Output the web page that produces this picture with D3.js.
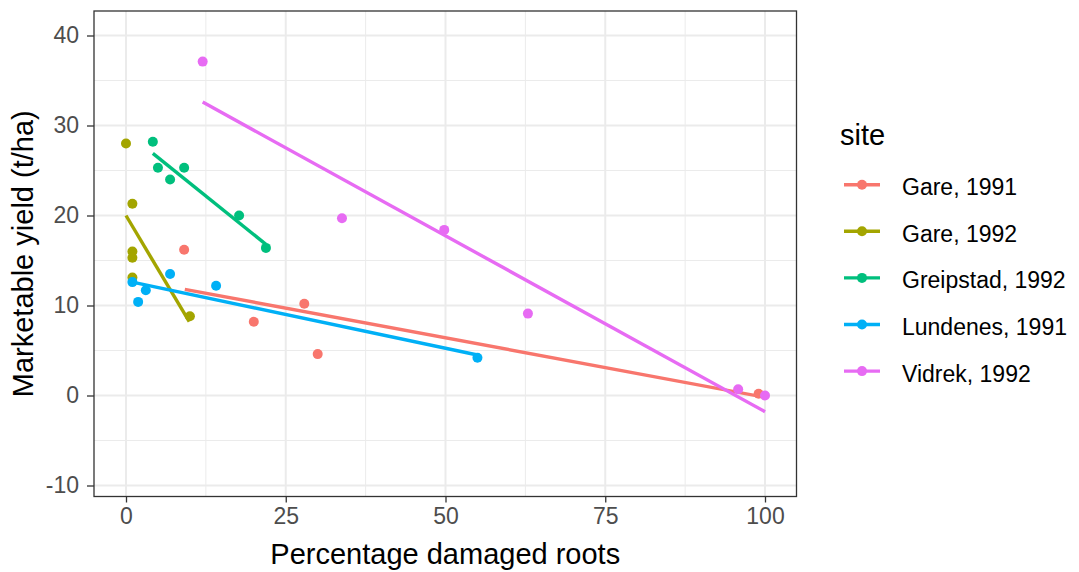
<!DOCTYPE html>
<html>
<head>
<meta charset="utf-8">
<script src="https://cdn.jsdelivr.net/npm/d3@7"></script>
<style>
  body { margin: 0; background: #fff; }
  text { font-family: "Liberation Sans", Arial, sans-serif; }
</style>
</head>
<body>
<svg width="1079" height="572"></svg>
<script>
"use strict";

// sites, in legend order
var sites = ["Gare, 1991", "Gare, 1992", "Greipstad, 1992", "Lundenes, 1991", "Vidrek, 1992"];
var colors = ["#F8766D", "#A3A500", "#00BF7D", "#00B0F6", "#E76BF3"];

// observed points: [percent damaged roots, marketable yield]
var gare91 = [[9.1, 16.2], [20, 8.2], [27.9, 10.2], [30, 4.6], [99, 0.2]];
var gare92 = [[0, 28], [1, 21.3], [1, 16], [1, 15.3], [1, 13.1], [10, 8.8]];
var greip92 = [[4.2, 28.2], [5, 25.3], [6.9, 24], [9.1, 25.3], [17.7, 20], [21.9, 16.4]];
var lund91 = [[1, 12.6], [1.9, 10.4], [3.1, 11.7], [6.9, 13.5], [14.1, 12.2], [55, 4.2]];
var vidrek92 = [[12, 37.1], [33.8, 19.7], [49.8, 18.4], [62.9, 9.1], [95.8, 0.7], [100, 0]];

// fitted line ends per site
var fits = [
  [[9.2, 11.8], [100, -0.2]],
  [[0, 20], [9.9, 8.2]],
  [[4.2, 26.9], [21.9, 16.8]],
  [[1, 12.6], [55, 4.5]],
  [[12, 32.6], [100, -1.8]]
];

var xTicks = [0, 25, 50, 75, 100];
var yTicks = [-10, 0, 10, 20, 30, 40];
var xMinor = [12.5, 37.5, 62.5, 87.5];
var yMinor = [-5, 5, 15, 25, 35];

var points = [gare91, gare92, greip92, lund91, vidrek92];

var svg = d3.select("svg");
var pLeft = 94, pRight = 796.5, pTop = 11, pBottom = 496.5;

var x = d3.scaleLinear().domain([0, 100]).range([126, 765]);
var y = d3.scaleLinear().domain([-10, 40]).range([485.5, 35.5]);

var plot = svg.append("g");

// background grid
plot.selectAll(".minx").data(xMinor).enter().append("line")
    .attr("x1", d => x(d)).attr("x2", d => x(d))
    .attr("y1", pTop).attr("y2", pBottom)
    .attr("stroke", "#EBEBEB").attr("stroke-width", 1);
plot.selectAll(".miny").data(yMinor).enter().append("line")
    .attr("x1", pLeft).attr("x2", pRight)
    .attr("y1", d => y(d)).attr("y2", d => y(d))
    .attr("stroke", "#EBEBEB").attr("stroke-width", 1);
plot.selectAll(".majx").data(xTicks).enter().append("line")
    .attr("x1", d => x(d)).attr("x2", d => x(d))
    .attr("y1", pTop).attr("y2", pBottom)
    .attr("stroke", "#EBEBEB").attr("stroke-width", 2);
plot.selectAll(".majy").data(yTicks).enter().append("line")
    .attr("x1", pLeft).attr("x2", pRight)
    .attr("y1", d => y(d)).attr("y2", d => y(d))
    .attr("stroke", "#EBEBEB").attr("stroke-width", 2);

// fitted lines
var line = d3.line().x(d => x(d[0])).y(d => y(d[1]));
plot.selectAll(".fit").data(fits).enter().append("path")
    .attr("d", line)
    .attr("fill", "none")
    .attr("stroke", (d, i) => colors[i])
    .attr("stroke-width", 3.4);

// points
points.forEach(function(pts, i) {
  plot.selectAll(".pt" + i).data(pts).enter().append("circle")
      .attr("cx", d => x(d[0])).attr("cy", d => y(d[1]))
      .attr("r", 5)
      .attr("fill", colors[i]);
});

// panel border
svg.append("rect")
   .attr("x", pLeft).attr("y", pTop)
   .attr("width", pRight - pLeft).attr("height", pBottom - pTop)
   .attr("fill", "none").attr("stroke", "#333333").attr("stroke-width", 1.3);

// axes
var fmt = d => String(d);
var xAxis = svg.append("g").attr("transform", "translate(0," + pBottom + ")")
    .call(d3.axisBottom(x).tickValues(xTicks).tickFormat(fmt).tickSize(6).tickPadding(5));
var yAxis = svg.append("g").attr("transform", "translate(" + pLeft + ",0)")
    .call(d3.axisLeft(y).tickValues(yTicks).tickFormat(fmt).tickSize(7).tickPadding(8));
[xAxis, yAxis].forEach(function(a) {
  a.select(".domain").remove();
  a.selectAll(".tick line").attr("stroke", "#333333").attr("stroke-width", 1.3);
  a.selectAll(".tick text").attr("fill", "#4D4D4D")
   .style("font-size", "23px").style("font-family", "Liberation Sans, Arial, sans-serif");
});

// axis titles
svg.append("text")
   .attr("x", (pLeft + pRight) / 2).attr("y", 564)
   .attr("text-anchor", "middle")
   .style("font-size", "29px").attr("fill", "#000")
   .text("Percentage damaged roots");
svg.append("text")
   .attr("transform", "translate(33," + ((pTop + pBottom) / 2) + ") rotate(-90)")
   .attr("text-anchor", "middle")
   .style("font-size", "29px").attr("fill", "#000")
   .text("Marketable yield (t/ha)");

// legend
var legend = svg.append("g");
legend.append("text")
   .attr("x", 840).attr("y", 145)
   .style("font-size", "29px").attr("fill", "#000")
   .text("site");
var keys = legend.selectAll(".key").data(sites).enter().append("g")
   .attr("transform", (d, i) => "translate(844," + (184.7 + i * 46.6) + ")");
keys.append("line")
   .attr("x1", 0).attr("x2", 36).attr("y1", 0).attr("y2", 0)
   .attr("stroke", (d, i) => colors[i]).attr("stroke-width", 3.4);
keys.append("circle")
   .attr("cx", 18).attr("cy", 0).attr("r", 5)
   .attr("fill", (d, i) => colors[i]);
keys.append("text")
   .attr("x", 58).attr("y", 10.5)
   .style("font-size", "23px").attr("fill", "#000")
   .text(d => d);
</script>
</body>
</html>
